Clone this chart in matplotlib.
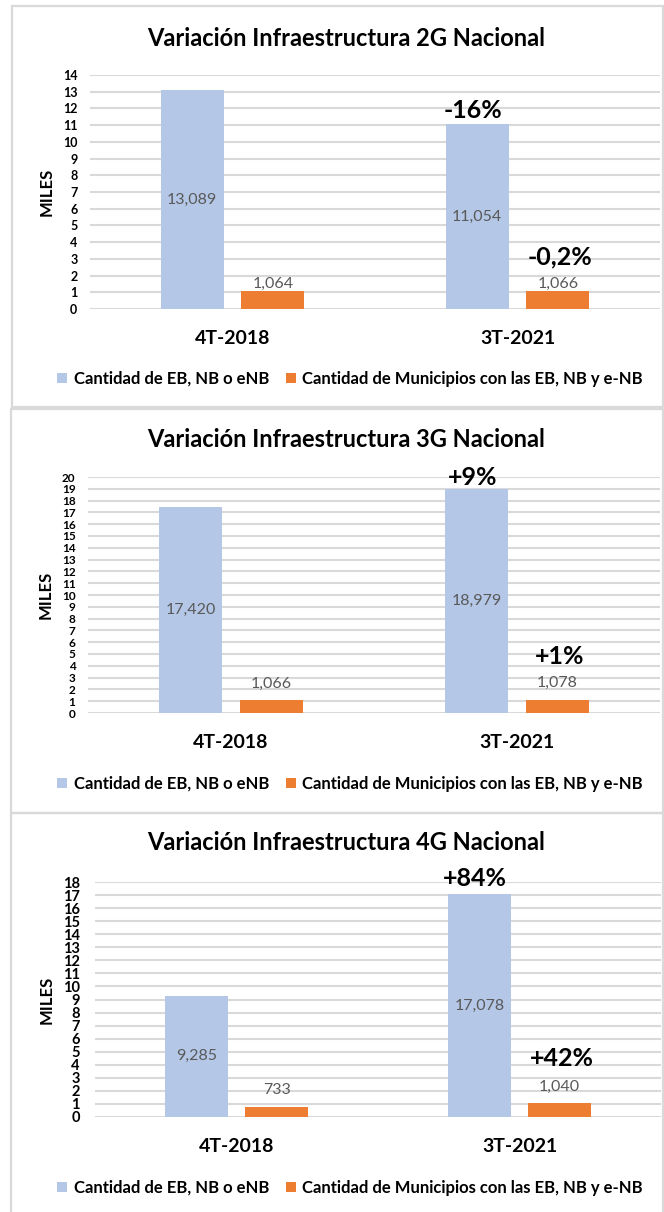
import matplotlib
matplotlib.use("Agg")
import matplotlib.pyplot as plt
from matplotlib.patches import Rectangle, Patch

plt.rcParams['font.family'] = ['Lato', 'DejaVu Sans']

periodos = ['4T-2018', '3T-2021']
serie_eb = 'Cantidad de EB, NB o eNB'
serie_mun = 'Cantidad de Municipios con las EB, NB y e-NB'

# 2G
eb_2g = [13089, 11054]
mun_2g = [1064, 1066]
var_eb_2g = '-16%'
var_mun_2g = '-0,2%'
# 3G
eb_3g = [17420, 18979]
mun_3g = [1066, 1078]
var_eb_3g = '+9%'
var_mun_3g = '+1%'
# 4G
eb_4g = [9285, 17078]
mun_4g = [733, 1040]
var_eb_4g = '+84%'
var_mun_4g = '+42%'

AZUL = '#B4C7E7'
NARANJA = '#ED7D31'
GRIS = '#D9D9D9'

W, H = 664, 1212
fig = plt.figure(figsize=(W / 100, H / 100), dpi=100)


def fx(px):
    return px / W


def fy(py):
    return 1 - py / H


paneles = [
    dict(tech='2G', eb=eb_2g, mun=mun_2g, var_eb=var_eb_2g, var_mun=var_mun_2g,
         ymax=14, box=(12, 6, 663, 407), ax=(90, 75, 660, 309), title_y=38,
         xlab_y=338, leg_y=379, tick_fs=9, tick_pad=9, lab_off=7, pct_off=(14, 34)),
    dict(tech='3G', eb=eb_3g, mun=mun_3g, var_eb=var_eb_3g, var_mun=var_mun_3g,
         ymax=20, box=(11, 409, 663, 813), ax=(88, 477, 660, 713), title_y=440,
         xlab_y=743, leg_y=784, tick_fs=8.5, tick_pad=9, lab_off=17, pct_off=(12, 44)),
    dict(tech='4G', eb=eb_4g, mun=mun_4g, var_eb=var_eb_4g, var_mun=var_mun_4g,
         ymax=18, box=(11, 813, 663, 1216), ax=(95, 882, 661, 1117), title_y=843,
         xlab_y=1147, leg_y=1188, tick_fs=10.5, tick_pad=11, lab_off=17, pct_off=(16, 45)),
]

ancho = 0.221
desp = 0.142

for p in paneles:
    x0, y0, x1, y1 = p['box']
    fig.patches.append(Rectangle((fx(x0), fy(y1)), fx(x1) - fx(x0), fy(y0) - fy(y1),
                                 transform=fig.transFigure, fill=False,
                                 edgecolor=GRIS, linewidth=1.6))

    l, t, r, b = p['ax']
    ax = fig.add_axes([fx(l), fy(b), fx(r) - fx(l), fy(t) - fy(b)])
    eb = [v / 1000 for v in p['eb']]
    mun = [v / 1000 for v in p['mun']]
    xs = range(len(periodos))
    ax.bar([x - desp for x in xs], eb, width=ancho, color=AZUL, zorder=3)
    ax.bar([x + desp for x in xs], mun, width=ancho, color=NARANJA, zorder=3)

    ax.set_xlim(-0.5, 1.5)
    ax.set_ylim(0, p['ymax'])
    ax.set_yticks(range(0, p['ymax'] + 1))
    ax.set_yticklabels([str(v) for v in range(0, p['ymax'] + 1)],
                       fontsize=p['tick_fs'], fontweight='bold')
    ax.set_xticks([])
    ax.yaxis.grid(True, color=GRIS, linewidth=1.5, zorder=0)
    ax.set_axisbelow(True)
    for s in ax.spines.values():
        s.set_visible(False)
    ax.tick_params(axis='y', length=0, pad=p['tick_pad'])
    ax.set_ylabel('MILES', fontsize=12, fontweight='bold', labelpad=6)

    # valores dentro / encima de las barras
    for x, v, raw in zip(xs, eb, p['eb']):
        ax.text(x - desp, v / 2, f'{raw:,}', ha='center', va='center',
                fontsize=11.5, color='#595959', zorder=4)
    for x, v, raw in zip(xs, mun, p['mun']):
        ax.annotate(f'{raw:,}', (x + desp, v), xytext=(0, p['lab_off']),
                    textcoords='offset pixels', ha='center', va='center',
                    fontsize=11.5, color='#595959')

    # variaciones porcentuales en el último periodo
    ax.annotate(p['var_eb'], (1 - desp, eb[1]), xytext=(-4, p['pct_off'][0]),
                textcoords='offset pixels', ha='center', va='center',
                fontsize=18, fontweight='bold', color='black')
    ax.annotate(p['var_mun'], (1 + desp, mun[1]), xytext=(2, p['pct_off'][1]),
                textcoords='offset pixels', ha='center', va='center',
                fontsize=18, fontweight='bold', color='black')

    for x, per in zip(xs, periodos):
        fig.text(fx(l + (x + 0.5) * (r - l) / 2), fy(p['xlab_y']), per,
                 ha='center', va='center', fontsize=14, fontweight='bold')

    fig.text(fx(346), fy(p['title_y']), f'Variación Infraestructura {p["tech"]} Nacional',
             ha='center', va='center', fontsize=17, fontweight='bold')

    handles = [Patch(facecolor=AZUL, label=serie_eb),
               Patch(facecolor=NARANJA, label=serie_mun)]
    fig.legend(handles=handles, loc='center', bbox_to_anchor=(fx(350), fy(p['leg_y'])),
               ncol=2, frameon=False, handlelength=0.6,
               handleheight=0.6, handletextpad=0.4, columnspacing=1.0,
               prop={'weight': 'bold', 'size': 12})

fig.savefig('out.png', dpi=100, facecolor='white')
